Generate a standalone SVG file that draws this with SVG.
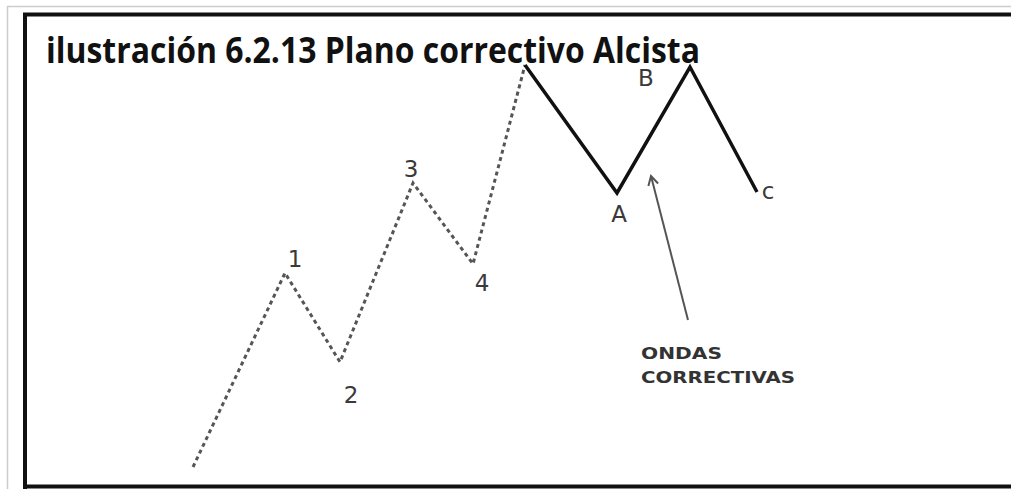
<svg xmlns="http://www.w3.org/2000/svg" width="1011" height="489" viewBox="0 0 1011 489">
<style>
.lbl{font-family:"DejaVu Sans",Verdana,sans-serif;font-size:23px;fill:#3a3a3a}
.note{font-family:"DejaVu Sans",Verdana,sans-serif;font-size:16px;font-weight:bold;fill:#333}
.title{font-family:"Open Sans","Liberation Sans",sans-serif;font-size:35px;font-weight:bold;fill:#111}
.dash{fill:none;stroke:#555;stroke-width:3;stroke-dasharray:4 3.5}
.solid{fill:none;stroke:#111;stroke-width:3.5;stroke-linejoin:miter}
</style>
<defs>
<marker id="open" viewBox="0 0 12 12" refX="10" refY="6" markerWidth="12" markerHeight="12" markerUnits="userSpaceOnUse" orient="auto">
<path d="M1,1 L10,6 L1,11" fill="none" stroke="#555" stroke-width="2"/>
</marker>
</defs>
<rect width="1011" height="489" fill="#fff"/>
<path d="M7.5,489 V6.5 H1011" fill="none" stroke="#ccc" stroke-width="1.5"/>
<path d="M25,489 V14.5 H1011" fill="none" stroke="#111" stroke-width="4"/>
<line x1="25" y1="486.5" x2="1011" y2="486.5" stroke="#111" stroke-width="4"/>
<g id="connectors">
<polyline class="dash" points="193,467 285,273 340,362 413,183 473,264 525,65"/>
<polyline class="solid" points="525,65 617,193 690,67 757,192"/>
<line x1="688" y1="320" x2="651" y2="176" stroke="#555" stroke-width="2" marker-end="url(#open)"/>
</g>
<g id="title"><text class="title" x="46" y="63" textLength="654" lengthAdjust="spacingAndGlyphs">ilustración 6.2.13 Plano correctivo Alcista</text></g>
<g id="n1"><text class="lbl" x="295" y="267" text-anchor="middle">1</text></g>
<g id="n2"><text class="lbl" x="351" y="403" text-anchor="middle">2</text></g>
<g id="n3"><text class="lbl" x="411" y="177" text-anchor="middle">3</text></g>
<g id="n4"><text class="lbl" x="482" y="291" text-anchor="middle">4</text></g>
<g id="nA"><text class="lbl" x="619" y="222" text-anchor="middle">A</text></g>
<g id="nB"><text class="lbl" x="646" y="86" text-anchor="middle" font-size="21">B</text></g>
<g id="nC"><text class="lbl" x="768" y="199" text-anchor="middle" font-size="19">c</text></g>
<g id="note"><text class="note" x="641" y="359" textLength="81" lengthAdjust="spacingAndGlyphs">ONDAS</text><text class="note" x="641" y="383" textLength="154" lengthAdjust="spacingAndGlyphs">CORRECTIVAS</text></g>
</svg>
